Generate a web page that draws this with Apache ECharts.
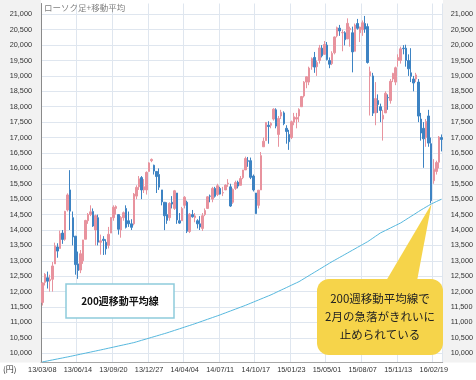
<!DOCTYPE html>
<html><head><meta charset="utf-8">
<script src="https://cdn.jsdelivr.net/npm/echarts@6/dist/echarts.min.js"></script>
<style>html,body{margin:0;padding:0;background:#fff}#c{width:476px;height:380px}</style>
</head><body><div id="c"></div>
<script>
const categories = [
"13/03/08","13/03/15","13/03/22","13/03/29","13/04/05","13/04/12","13/04/19","13/04/26","13/05/03","13/05/10","13/05/17","13/05/24","13/05/31","13/06/07","13/06/14","13/06/21","13/06/28","13/07/05","13/07/12","13/07/19","13/07/26","13/08/02","13/08/09","13/08/16","13/08/23","13/08/30","13/09/06","13/09/13","13/09/20","13/09/27","13/10/04","13/10/11","13/10/18","13/10/25","13/11/01","13/11/08","13/11/15","13/11/22","13/11/29","13/12/06","13/12/13","13/12/20","13/12/27",
"14/01/03","14/01/10","14/01/17","14/01/24","14/01/31","14/02/07","14/02/14","14/02/21","14/02/28","14/03/07","14/03/14","14/03/21","14/03/28","14/04/04","14/04/11","14/04/18","14/04/25","14/05/02","14/05/09","14/05/16","14/05/23","14/05/30","14/06/06","14/06/13","14/06/20","14/06/27","14/07/04","14/07/11","14/07/18","14/07/25","14/08/01","14/08/08","14/08/15","14/08/22","14/08/29","14/09/05","14/09/12","14/09/19","14/09/26","14/10/03","14/10/10","14/10/17","14/10/24","14/10/31","14/11/07","14/11/14","14/11/21","14/11/28","14/12/05","14/12/12","14/12/19","14/12/26",
"15/01/02","15/01/09","15/01/16","15/01/23","15/01/30","15/02/06","15/02/13","15/02/20","15/02/27","15/03/06","15/03/13","15/03/20","15/03/27","15/04/03","15/04/10","15/04/17","15/04/24","15/05/01","15/05/08","15/05/15","15/05/22","15/05/29","15/06/05","15/06/12","15/06/19","15/06/26","15/07/03","15/07/10","15/07/17","15/07/24","15/07/31","15/08/07","15/08/14","15/08/21","15/08/28","15/09/04","15/09/11","15/09/18","15/09/25","15/10/02","15/10/09","15/10/16","15/10/23","15/10/30","15/11/06","15/11/13","15/11/20","15/11/27","15/12/04","15/12/11","15/12/18","15/12/25",
"16/01/01","16/01/08","16/01/15","16/01/22","16/01/29","16/02/05","16/02/12","16/02/19","16/02/26","16/03/04","16/03/11"];

// weekly candles: [open, close, low, high]
const candles = [
[11650,12283,11550,12300],[12300,12560,12200,12600],[12450,12338,12100,12650],[12350,12397,12000,12550],[12400,12833,12000,12960],
[12900,13485,12900,13590],[13450,13316,13100,13570],[13400,13884,13400,13980],[13900,13694,13550,14000],[13700,14607,13650,14620],
[14650,15138,14600,15190],[15300,14612,14000,15942],[14400,13775,13500,14600],[13800,12877,12550,13800],[12900,12686,12415,13300],
[12700,13230,12600,13350],[13000,13677,12900,13680],[13700,14309,13700,14330],[14300,14506,14200,14550],[14500,14589,14450,14800],
[14600,14129,14100,14700],[14000,14466,13500,14500],[14400,13605,13500,14500],[13600,13650,13200,13850],[13700,13660,13190,13800],
[13600,13389,13200,13700],[13500,13860,13400,14100],[13900,14404,13900,14420],[14400,14742,14300,14800],[14700,14760,14500,14800],
[14500,14024,13850,14500],[14000,14404,13750,14450],[14400,14561,14300,14600],[14700,14088,14050,14800],[14300,14201,14100,14600],
[14200,14086,14000,14350],[14200,15165,14150,15200],[15100,15381,15000,15450],[15400,15661,15300,15750],[15700,15299,15000,15750],
[15300,15403,15200,15650],[15300,15870,15150,15900],[15900,16178,15900,16200],[16250,16291,16200,16320],[16100,15912,15800,16120],
[15900,15734,15200,15900],[15800,15391,15300,16000],[15300,14914,14800,15300],[14900,14462,13995,14900],[14500,14313,14200,14900],
[14400,14865,14300,14900],[14900,14841,14700,15100],[14700,15274,14650,15300],[15200,14327,14200,15200],[14300,14224,14200,14550],
[14300,14696,14300,14750],[14800,15063,14700,15100],[14900,13960,13900,14950],[13950,14516,13900,14550],[14500,14429,14400,14650],
[14400,14458,14250,14550],[14300,14199,14050,14350],[14200,14096,14000,14450],[14050,14462,13970,14550],[14500,14632,14450,14700],
[14700,15077,14700,15100],[15100,15097,14900,15150],[15000,15349,14900,15400],[15350,15095,15050,15400],[15150,15437,15100,15500],
[15350,15164,15150,15400],[15200,15215,15100,15400],[15300,15457,15300,15480],[15500,15523,15400,15650],[15400,14778,14750,15500],
[14900,15318,14850,15350],[15350,15539,15300,15600],[15550,15424,15350,15600],[15450,15668,15450,15750],[15700,15948,15650,15950],
[15950,16321,15950,16380],[16250,16229,16050,16370],[16250,15708,15650,16350],[15750,15300,15250,15800],[15200,14532,14529,15200],
[14800,15291,14700,15300],[15300,16413,15300,16530],[16700,16880,16700,17000],[16900,17490,16900,17500],[17400,17357,16800,17530],
[17400,17459,17300,17500],[17600,17920,17550,17950],[17900,17371,17300,17950],[17100,17621,16700,17700],[17700,17818,17600,17900],
[17800,17451,17400,17850],[17300,17197,16800,17400],[17100,16864,16600,17250],[17000,17511,16950,17550],[17500,17674,17400,17800],
[17600,17648,17300,17800],[17700,17913,17500,17950],[18000,18332,18000,18350],[18350,18798,18300,18830],[18800,18971,18600,18980],
[18800,19254,18700,19300],[19300,19560,19200,19600],[19600,19286,19100,19778],[19300,19435,19000,19500],[19500,19908,19400,20006],
[19900,19652,19600,20000],[19700,20020,19700,20133],[20000,19531,19500,20100],[19500,19379,19250,19600],[19400,19733,19350,19800],
[19750,20264,19700,20280],[20300,20563,20250,20600],[20550,20460,20300,20655],[20400,20407,19800,20500],[20400,20174,19990,20450],
[20200,20706,20200,20868],[20500,20539,19950,20600],[20400,19780,19115,20600],[19800,20650,19800,20700],[20700,20544,20500,20850],
[20400,20585,20100,20600],[20500,20724,20300,20800],[20700,20519,20400,20946],[20600,19435,19400,20700],[19000,19136,17714,19300],
[19000,17792,17700,19100],[17800,18264,17400,18800],[18200,18070,17800,18400],[18000,17880,17500,18100],[17600,17725,16901,17900],
[17800,18438,17800,18500],[18300,18291,17900,18400],[18200,18825,18100,18900],[18900,19083,18800,19100],[18800,19265,18700,19300],
[19500,19596,19300,19700],[19500,19879,19400,19950],[19900,19883,19700,20000],[19900,19504,19300,20012],[19500,19230,19000,19700],
[19100,18986,18800,19900],[18900,18769,18500,19000],[18900,19033,18800,19100],[18800,17697,17500,18900],[17600,17147,16900,17800],
[17300,16958,16017,17500],[17000,17518,16700,17600],[17700,16819,16700,17900],[16800,14952,14865,17000],[15600,15967,15500,16300],
[15900,16188,15800,16250],[16200,17014,16000,17050],[17000,16938,16550,17100]];

// 200-week moving average
const ma200 = [
9718,9734,9750,9767,9783,9799,9816,9832,9848,9865,9881,
9898,9916,9933,9951,9968,9986,10003,10021,10038,10056,10073,10091,10108,
10126,10145,10163,10181,10199,10217,10236,10254,10272,10290,10308,10327,10345,
10369,10393,10418,10442,10466,10490,10515,10539,10563,10587,10612,10636,10660,
10687,10714,10741,10768,10795,10822,10849,10876,10903,10930,10957,
10986,11015,11044,11073,11102,11131,11160,11189,11218,11247,
11278,11309,11340,11371,11402,11433,11464,11495,11526,11557,
11591,11625,11659,11693,11727,11761,11795,11829,11863,11897,
11936,11975,12014,12053,12091,12130,12169,12208,12247,12286,12324,
12374,12424,12474,12524,12574,12624,12674,12724,12774,12824,12874,12924,12973,
13019,13066,13112,13158,13205,13251,13298,13344,13390,13437,13483,13529,13576,13622,
13678,13734,13791,13847,13904,
13945,13985,14026,14067,14108,14148,14189,14230,
14282,14335,14388,14440,14492,14545,14598,14650,
14699,14748,14796,14845,
14883,14922,14960,14998];

const yTicks = [10000,10500,11000,11500,12000,12500,13000,13500,14000,14500,15000,15500,16000,16500,17000,17500,18000,18500,19000,19500,20000,20500,21000];

const title = "ローソク足+移動平均";
const unitLabel = "(円)";
const boxLabel = "200週移動平均線";
const calloutLines = ["200週移動平均線で","2月の急落がきれいに","止められている"];

function fmt(v){ return String(v).replace(/\B(?=(\d{3})+(?!\d))/g, ","); }

const chart = echarts.init(document.getElementById('c'), null, {renderer:'canvas'});
const gridColor = '#dfe6ef';
const lblFont = {fontSize:7.3, color:'#333', fontFamily:'Liberation Sans, Arial, sans-serif'};
chart.setOption({
  animation:false,
  backgroundColor:'#ffffff',
  grid:{left:41, right:33, top:3.5, bottom:17.5},
  xAxis:{type:'category', data:categories, boundaryGap:true,
    axisLine:{show:true, lineStyle:{color:'#a8a8a8', width:1}},
    axisTick:{show:false},
    axisLabel:Object.assign({interval:13, margin:4}, lblFont),
    splitLine:{show:true, interval:13, lineStyle:{color:gridColor, width:1}}},
  yAxis:[
    {type:'value', min:9700, max:21350, position:'left', scale:true,
     axisLine:{show:true, lineStyle:{color:'#8a8a8a', width:1}},
     axisTick:{show:false, customValues:yTicks},
     axisLabel:Object.assign({customValues:yTicks, margin:9, formatter:fmt}, lblFont),
     splitLine:{show:true, lineStyle:{color:gridColor, width:1}}},
    {type:'value', min:9700, max:21350, position:'right', scale:true,
     axisLine:{show:false},
     axisTick:{show:false, customValues:yTicks},
     axisLabel:Object.assign({customValues:yTicks, margin:8, formatter:fmt}, lblFont),
     splitLine:{show:false}}
  ],
  series:[
    {type:'candlestick', data:candles, barWidth:2,
     itemStyle:{color:'#e8939e', color0:'#3d83c3', borderColor:'#e8939e', borderColor0:'#3d83c3', borderWidth:1}},
    {type:'line', data:ma200, showSymbol:false, symbol:'none',
     lineStyle:{color:'#56b8de', width:1}, z:3}
  ],
  graphic:[
    {type:'rect', z:-10, shape:{x:0,y:0,width:41,height:362.5}, style:{fill:'#f2f2f2'}},
    {type:'rect', z:-10, shape:{x:443,y:0,width:33,height:362.5}, style:{fill:'#f2f2f2'}},
    {type:'text', x:44, y:4, z:10, style:{text:title, fill:'#808080', font:'8.5px "Noto Sans CJK JP", sans-serif'}},
    {type:'text', x:3, y:365, z:10, style:{text:unitLabel, fill:'#333', font:'8px "Noto Sans CJK JP", sans-serif'}},
    {type:'rect', z:20, shape:{x:66,y:284,width:108,height:34}, style:{fill:'#ffffff', stroke:'#8ecbdc', lineWidth:1.5}},
    {type:'text', z:21, x:120, y:301, style:{text:boxLabel, fill:'#111', font:'bold 10px "Noto Sans CJK JP", sans-serif', textAlign:'center', textVerticalAlign:'middle'}},
    {type:'polygon', z:20, shape:{points:[[386,281],[431.5,204],[417,281]]}, style:{fill:'#f6d44a'}},
    {type:'rect', z:20, shape:{x:317,y:279,width:126,height:76,r:12}, style:{fill:'#f6d44a'}},
    {type:'text', z:21, x:380, y:299, style:{text:calloutLines[0], fill:'#222', font:'11.5px "Noto Sans CJK JP", sans-serif', textAlign:'center', textVerticalAlign:'middle'}},
    {type:'text', z:21, x:380, y:317, style:{text:calloutLines[1], fill:'#222', font:'11.5px "Noto Sans CJK JP", sans-serif', textAlign:'center', textVerticalAlign:'middle'}},
    {type:'text', z:21, x:380, y:335, style:{text:calloutLines[2], fill:'#222', font:'11.5px "Noto Sans CJK JP", sans-serif', textAlign:'center', textVerticalAlign:'middle'}}
  ]
});
</script>
</body></html>
